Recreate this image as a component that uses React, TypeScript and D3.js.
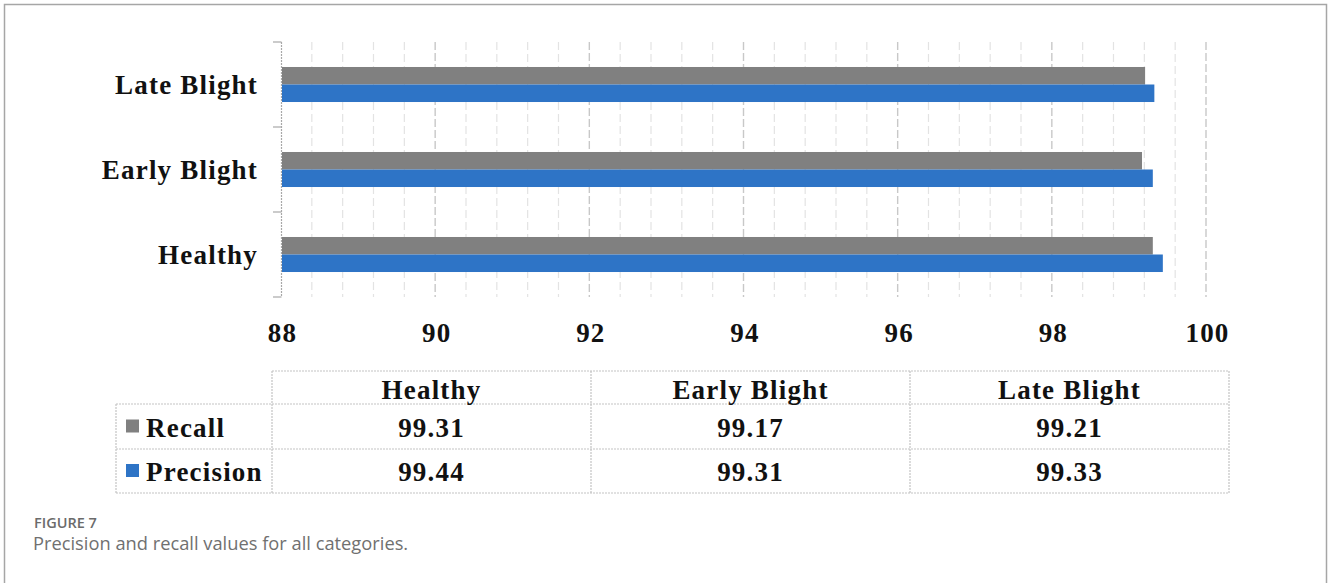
import React from "react";
import * as d3 from "d3";

// Categories and per-series values
const categories = ["Healthy", "Early Blight", "Late Blight"];
const seriesNames = ["Recall", "Precision"];
const recall = [99.31, 99.17, 99.21];
const precision = [99.44, 99.31, 99.33];
const xTicks = [88, 90, 92, 94, 96, 98, 100];
const seriesValues = [recall, precision];
const seriesColors = ["#808080", "#2E74C6"];

const W = 1328;
const H = 583;
const plot = { left: 281, right: 1206, top: 42, bottom: 297 };
const serif = "'Liberation Serif', 'Times New Roman', serif";
const caption = "'Open Sans', 'Noto Sans', sans-serif";

export default function App() {
  const x = d3.scaleLinear().domain([88, 100]).range([plot.left, plot.right]);
  const y = d3
    .scaleBand<string>()
    .domain(categories)
    .range([plot.bottom, plot.top])
    .paddingInner(0.588)
    .paddingOuter(0.294);
  const ySeries = d3.scaleBand<string>().domain(seriesNames).range([0, y.bandwidth()]);

  // minor gridlines every 0.4 units, majors at the labelled ticks
  const minor = d3.range(1, 30).map((i) => 88 + i * 0.4).filter((v) => Math.abs(v / 2 - Math.round(v / 2)) > 1e-6);
  const boundaries = d3.range(categories.length + 1).map((i) => plot.bottom - i * y.step());

  // data table geometry
  const tbl = { legendLeft: 116, left: 272, right: 1229, top: 371, header: 404, row1: 449, bottom: 493 };
  const col = d3.scaleBand<string>().domain(categories).range([tbl.left, tbl.right]);
  const rowBounds = [tbl.header, tbl.row1, tbl.bottom];
  const gridStroke = "#c4c4c4";
  const dotted = "2,1";

  const textStyle = { fontFamily: serif, fontWeight: 700, fontSize: 27, letterSpacing: 1.2, fill: "#111" } as const;

  return (
    <svg width={W} height={H} style={{ position: "absolute", left: 0, top: 0, background: "#fff" }}>
      {/* outer frame */}
      <rect x={4.5} y={4.5} width={1322} height={640} fill="none" stroke="#a6a6a6" strokeWidth={1.5} />

      {/* gridlines */}
      {minor.map((v) => (
        <line key={"m" + v} x1={x(v)} x2={x(v)} y1={plot.top} y2={plot.bottom} stroke="#e3e3e3" strokeWidth={1.2} strokeDasharray="8,4" />
      ))}
      {xTicks.slice(1).map((v) => (
        <line key={"M" + v} x1={x(v)} x2={x(v)} y1={plot.top} y2={plot.bottom} stroke="#c8c8c8" strokeWidth={1.4} strokeDasharray="8,3" />
      ))}

      {/* category axis */}
      <line x1={plot.left + 0.5} x2={plot.left + 0.5} y1={plot.top} y2={plot.bottom} stroke="#a8a8a8" strokeWidth={1.2} strokeDasharray="2,1" />
      {boundaries.map((b) => (
        <line key={"t" + b} x1={plot.left - 8} x2={plot.left + 0.5} y1={b} y2={b} stroke="#a8a8a8" strokeWidth={1.2} />
      ))}

      {/* bars */}
      {categories.map((c, ci) => (
        <g key={c} transform={`translate(0,${y(c)})`}>
          {seriesNames.map((s, si) => (
            <rect
              key={s}
              x={x(88) + 1}
              y={ySeries(s)}
              width={x(seriesValues[si][ci]) - x(88) - 1}
              height={ySeries.bandwidth()}
              fill={seriesColors[si]}
            />
          ))}
        </g>
      ))}

      {/* category labels */}
      {categories.map((c) => (
        <text key={"l" + c} x={258} y={(y(c) ?? 0) + y.bandwidth() / 2 + 9.5} textAnchor="end" style={textStyle}>
          {c}
        </text>
      ))}

      {/* value axis labels */}
      {xTicks.map((v) => (
        <text key={"x" + v} x={x(v) + 1.5} y={342} textAnchor="middle" style={textStyle}>
          {v}
        </text>
      ))}

      {/* data table */}
      <g stroke={gridStroke} strokeWidth={1.2} strokeDasharray={dotted} fill="none">
        <line x1={tbl.left} x2={tbl.right} y1={tbl.top} y2={tbl.top} />
        {rowBounds.map((r) => (
          <line key={"r" + r} x1={tbl.legendLeft} x2={tbl.right} y1={r} y2={r} />
        ))}
        <line x1={tbl.legendLeft} x2={tbl.legendLeft} y1={tbl.header} y2={tbl.bottom} />
        {[...categories.map((c) => col(c) ?? 0), tbl.right].map((cx) => (
          <line key={"c" + cx} x1={cx} x2={cx} y1={tbl.top} y2={tbl.bottom} />
        ))}
      </g>
      {categories.map((c) => (
        <text key={"h" + c} x={(col(c) ?? 0) + col.bandwidth() / 2} y={399} textAnchor="middle" style={textStyle}>
          {c}
        </text>
      ))}
      {seriesNames.map((s, si) => {
        const top = rowBounds[si];
        const bottom = rowBounds[si + 1];
        const mid = (top + bottom) / 2;
        return (
          <g key={"row" + s}>
            <rect x={126} y={mid - 7} width={13} height={13} fill={seriesColors[si]} />
            <text x={146} y={mid + 10} style={textStyle}>
              {s}
            </text>
            {categories.map((c, ci) => (
              <text key={c} x={(col(c) ?? 0) + col.bandwidth() / 2} y={mid + 10} textAnchor="middle" style={textStyle}>
                {seriesValues[si][ci].toFixed(2)}
              </text>
            ))}
          </g>
        );
      })}

      {/* caption */}
      <text x={34} y={528} style={{ fontFamily: caption, fontWeight: 600, fontSize: 14.5, fill: "#6b6b6b" }}>
        FIGURE 7
      </text>
      <text x={33} y={550} style={{ fontFamily: caption, fontWeight: 400, fontSize: 18.3, fill: "#707070" }}>
        Precision and recall values for all categories.
      </text>
    </svg>
  );
}
